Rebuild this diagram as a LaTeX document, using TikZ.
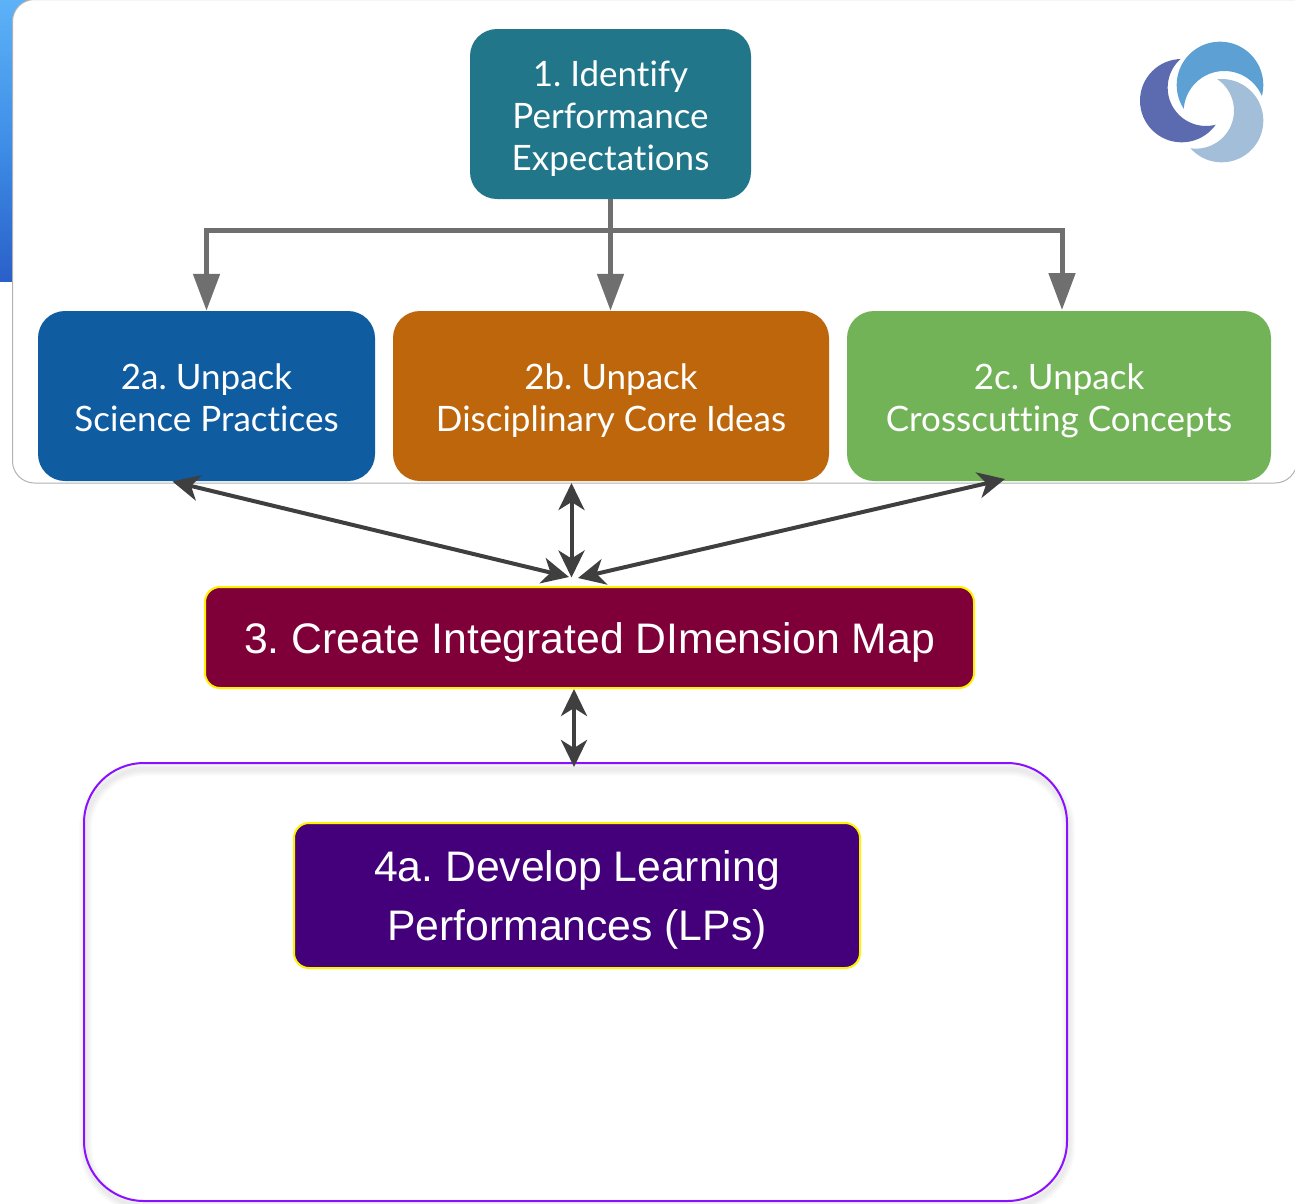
\documentclass[tikz,border=0pt]{standalone}
\usepackage{fontspec}
\setmainfont{Liberation Sans}
\newfontfamily\topfont[Ligatures=NoCommon]{Lato}
\usetikzlibrary{arrows.meta,calc}
\definecolor{teal1}{HTML}{21768A}
\definecolor{blue2}{HTML}{0F5CA0}
\definecolor{orange2}{HTML}{BE660B}
\definecolor{green2}{HTML}{73B358}
\definecolor{maroon3}{HTML}{7F0039}
\definecolor{indigo4}{HTML}{43007A}
\definecolor{frame4}{HTML}{8A10FF}
\definecolor{linegray}{HTML}{6F6F6F}
\definecolor{linedark}{HTML}{3F3F3F}
\definecolor{skytop}{HTML}{5DB2F7}
\definecolor{skymid}{HTML}{3F8FE8}
\definecolor{skylow}{HTML}{2A60C8}
\definecolor{logoa}{HTML}{5C6BB0}
\definecolor{logob}{HTML}{5CA0D4}
\definecolor{logoc}{HTML}{A3BED9}
\newcommand{\upperline}{\rule{0pt}{42.5pt}}
\newcommand{\lowerline}{\rule{0pt}{49.3pt}}
\tikzset{
  topbox/.style={inner sep=0pt,text=white,align=center,rounded corners=27pt,
    font=\topfont\frenchspacing\fontsize{35}{42}\selectfont},
  lowbox/.style={draw=yellow,line width=2pt,inner sep=0pt,text=white,align=center,rounded corners=15pt,
    font=\frenchspacing\fontsize{42.7}{59}\selectfont},
  treeline/.style={draw=linegray,line width=5pt},
  treearrow/.style={treeline,-{Triangle[width=26pt,length=37pt]}},
  linkarrow/.style={draw=linedark,line width=4pt,{Stealth[width=26pt,length=27pt,inset=8pt]}-{Stealth[width=26pt,length=27pt,inset=8pt]}},
  frameshadow/.style={draw=black,line width=#1,opacity=0.02,rounded corners=60pt},
}
\begin{document}
\begin{tikzpicture}[x=1pt,y=-1pt]
\useasboundingbox (0,0) rectangle (1295,1203);
% blue backdrop
\shade[top color=skytop,bottom color=skymid] (0,0) rectangle (40,140);
\shade[top color=skymid,bottom color=skylow] (0,140) rectangle (40,281);
\fill[skylow] (1287,0) -- (1295,0) -- (1295,3) -- cycle;
% white panel
\draw[draw=black!30,fill=white,line width=1pt,rounded corners=22pt] (1297,-0.5) -- (12.5,-0.5) -- (12.5,483) -- (1297,483) -- (1297,300);
% big frame with its soft shadow
\foreach \w in {13pt,10pt,7pt,4pt}{
  \draw[frameshadow=\w] (85.5,769) rectangle (1068.5,1206);
}
\node[draw=frame4,line width=2pt,rounded corners=60pt,minimum width=983pt,minimum height=438pt,inner sep=0pt] (frame) at (575.5,982) {};
% top boxes
\node[topbox,fill=teal1,minimum width=281pt,minimum height=170pt] (n1) at (610.5,114) {\upperline 1. Identify\\Performance\\Expectations\strut};
\node[topbox,fill=blue2,minimum width=337pt,minimum height=170pt] (n2a) at (206.5,396) {\upperline 2a. Unpack\\Science Practices\strut};
\node[topbox,fill=orange2,minimum width=436pt,minimum height=170pt] (n2b) at (611,396) {\upperline 2b. Unpack\\Disciplinary Core Ideas\strut};
\node[topbox,fill=green2,minimum width=424pt,minimum height=170pt] (n2c) at (1059,396) {\upperline 2c. Unpack\\Crosscutting Concepts\strut};
% lower boxes
\node[lowbox,fill=maroon3,minimum width=769pt,minimum height=101pt] (n3) at (589.5,637.5) {\lowerline 3. Create Integrated DImension Map\strut};
\node[lowbox,fill=indigo4,minimum width=566pt,minimum height=145pt] (n4) at (577,895.5) {\lowerline 4a. Develop Learning\\Performances (LPs)\strut};
% tree connectors
\coordinate (bus) at (610.5,230);
\coordinate (right) at (1062,310);
\draw[treeline] (n1.south) -- (bus);
\draw[treearrow] (bus) -| (n2a.north);
\draw[treearrow] (bus) -- (n2b.north -| bus);
\draw[treearrow] (bus) -| (right);
% link connectors
\coordinate (hub) at (571.5,577.5);
\coordinate (huba) at (569,577);
\coordinate (hubc) at (578,578);
\coordinate (enda) at (172.5,481.5);
\coordinate (endb) at (571.5,483);
\coordinate (endc) at (1005,479);
\coordinate (low1) at (574,689);
\coordinate (low2) at (574,767);
\draw[linkarrow] (enda) -- (huba);
\draw[linkarrow] (endb) -- (hub);
\draw[linkarrow] (endc) -- (hubc);
\draw[linkarrow] (low1) -- (low2);
% logo
\begin{scope}[shift={(1100,0)},x=0.3333pt,y=-0.3333pt]
\begin{scope}[even odd rule]
\clip (0,0) rectangle (600,600) (318,263) circle[radius=115];
\fill[logoa] (245,302) circle[radius=125];
\end{scope}
\begin{scope}[even odd rule]
\clip (0,0) rectangle (600,600) (373,335) circle[radius=122];
\fill[logob] (360,255) circle[radius=130];
\end{scope}
\begin{scope}[even odd rule]
\clip (0,0) rectangle (600,600) (288,332) circle[radius=114];
\fill[logoc] (365,362) circle[radius=125];
\end{scope}
\end{scope}
\end{tikzpicture}
\end{document}
